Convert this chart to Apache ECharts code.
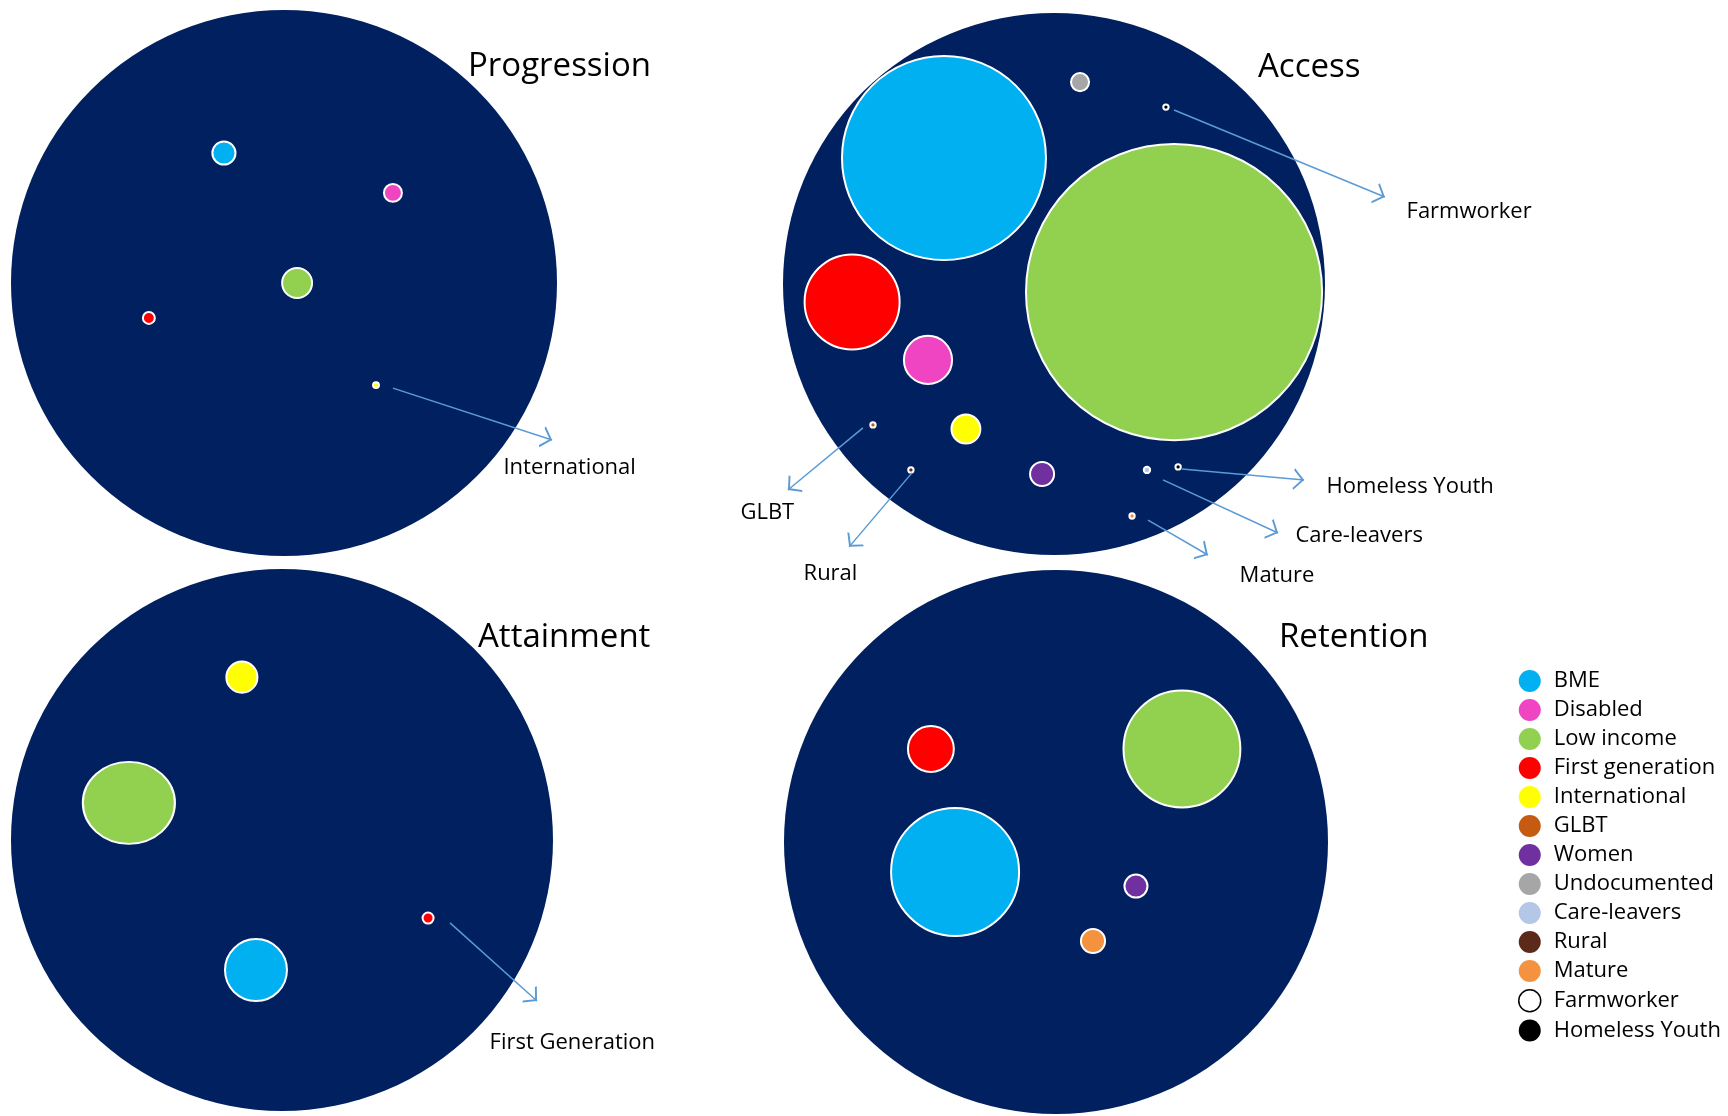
<!DOCTYPE html>
<html><head><meta charset="utf-8">
<script src="https://cdn.jsdelivr.net/npm/echarts@6/dist/echarts.min.js"></script>
<style>html,body{margin:0;padding:0;background:#fff}#c{width:1728px;height:1116px}</style>
</head><body><div id="c"></div>
<script>
// ---------- data ----------
const categories = ['BME','Disabled','Low income','First generation','International','GLBT','Women','Undocumented','Care-leavers','Rural','Mature','Farmworker','Homeless Youth'];
const panelNames = ['Progression','Access','Attainment','Retention'];
// bubbles: [category, x, y, width, height]  (units: panel disc radius = 100)
const progressionBubbles = [
  ['BME', -22.0, 47.6, 9.2, 9.2],
  ['Disabled', 39.9, 33.0, 7.3, 7.3],
  ['Low income', 4.8, 0.0, 11.7, 11.7],
  ['First generation', -49.5, -12.8, 5.1, 5.1],
  ['International', 33.7, -37.4, 2.9, 2.9]
];
const accessBubbles = [
  ['BME', -40.6, 46.5, 76.0, 76.0],
  ['Low income', 44.3, -3.0, 110.0, 110.0],
  ['Undocumented', 9.6, 74.5, 7.4, 7.4],
  ['Farmworker', 41.3, 65.3, 2.7, 2.7],
  ['First generation', -74.5, -6.6, 35.8, 35.8],
  ['Disabled', -46.5, -28.0, 18.5, 18.5],
  ['International', -32.5, -53.5, 11.4, 11.4],
  ['Women', -4.4, -70.1, 9.6, 9.6],
  ['GLBT', -66.8, -52.0, 2.7, 2.7],
  ['Rural', -52.8, -68.6, 2.7, 2.7],
  ['Care-leavers', 34.3, -68.6, 3.1, 3.1],
  ['Homeless Youth', 45.8, -67.5, 2.7, 2.7],
  ['Mature', 28.8, -85.6, 2.7, 2.7]
];
const attainmentBubbles = [
  ['International', -14.8, 60.1, 12.2, 12.2],
  ['Low income', -56.5, 13.7, 34.7, 31.0],
  ['First generation', 53.9, -28.8, 4.8, 4.8],
  ['BME', -9.6, -48.0, 23.6, 23.6]
];
const retentionBubbles = [
  ['First generation', -46.0, 34.2, 17.6, 17.6],
  ['Low income', 46.3, 34.2, 43.7, 43.7],
  ['BME', -37.1, -11.0, 47.8, 47.8],
  ['Women', 29.4, -16.2, 9.2, 9.2],
  ['Mature', 13.6, -36.4, 9.6, 9.6]
];
// call-outs: [text, fromX, fromY, toX, toY, labelX, labelY]
const progressionNotes = [['International', 39.9, -38.5, 98.2, -57.5, 80.2, -66.7]];
const accessNotes = [
  ['Farmworker', 44.3, 64.2, 122.1, 32.1, 129.9, 27.7],
  ['GLBT', -70.5, -53.1, -98.2, -76.0, -115.9, -83.4],
  ['Rural', -52.4, -69.7, -75.6, -97.0, -92.6, -105.9],
  ['Homeless Youth', 47.2, -68.3, 92.3, -72.3, 100.4, -73.8],
  ['Care-leavers', 40.2, -72.3, 82.7, -91.9, 88.9, -91.9],
  ['Mature', 34.7, -87.1, 56.8, -100.0, 68.3, -106.6]
];
const attainmentNotes = [['First Generation', 62.0, -30.6, 94.1, -59.4, 76.4, -73.8]];
const retentionNotes = [];

// ---------- styles / layout ----------
const colors = {
  'BME':'#00B0F0','Disabled':'#EF45C2','Low income':'#92D050','First generation':'#FF0000',
  'International':'#FFFF00','GLBT':'#C55A11','Women':'#7030A0','Undocumented':'#A6A6A6',
  'Care-leavers':'#B4C7E7','Rural':'#5B2A18','Mature':'#F59240','Farmworker':'#000000','Homeless Youth':'#000000'
};
const NAVY = '#002060', ARROW = '#5B9BD5', FONT = 'Open Sans';
const panels = [
  {cx:284, cy:283, r:273, tx:468, ty:47},
  {cx:1054, cy:284, r:271, tx:1258, ty:48},
  {cx:282, cy:840, r:271, tx:478, ty:618},
  {cx:1056, cy:842, r:272, tx:1279, ty:618}
];
const bubbleSets = [progressionBubbles, accessBubbles, attainmentBubbles, retentionBubbles];
const noteSets = [progressionNotes, accessNotes, attainmentNotes, retentionNotes];
const chevron = 'path://M0,-10.86L0.001,-10.86L0,-10.859Z M0,0L7,10L5.77,10.86L0,2.62L-5.77,10.86L-7,10Z';

const grid = [], xAxis = [], yAxis = [], series = [], title = [];
panels.forEach((p, i) => {
  grid.push({left:p.cx-p.r, top:p.cy-p.r, width:2*p.r, height:2*p.r, outerBoundsMode:'none', containLabel:false});
  xAxis.push({type:'value', gridIndex:i, min:-100, max:100, show:false});
  yAxis.push({type:'value', gridIndex:i, min:-100, max:100, show:false});
  title.push({text:panelNames[i], left:p.tx, top:p.ty, padding:0,
    textStyle:{fontFamily:FONT, fontSize:33, fontWeight:'normal', color:'#000', lineHeight:40}});
  const k = p.r / 100;
  // disc
  series.push({type:'scatter', name:'disc'+i, xAxisIndex:i, yAxisIndex:i, silent:true, z:1, clip:false,
    data:[[0,0,200,200]], symbolSize:v => [v[2]*k, v[3]*k],
    itemStyle:{color:NAVY, opacity:1}});
  // bubbles
  bubbleSets[i].forEach(b => {
    series.push({type:'scatter', name:b[0], xAxisIndex:i, yAxisIndex:i, z:3, clip:false, silent:true,
      data:[[b[1], b[2], b[3], b[4]]],
      symbolSize:v => [Math.max(v[2]*k-2, 3), Math.max(v[3]*k-2, 3)],
      itemStyle:{color:colors[b[0]], borderColor:'#ffffff', borderWidth:2, opacity:1}});
  });
  // arrows
  const notes = noteSets[i];
  if (notes.length) {
    series.push({type:'lines', name:'arrows'+i, coordinateSystem:'cartesian2d', xAxisIndex:i, yAxisIndex:i,
      z:4, silent:true, clip:false, symbol:['none', chevron], symbolSize:[14, 21.72],
      lineStyle:{color:ARROW, width:1.5, opacity:1, curveness:0},
      data:notes.map(n => ({coords:[[n[1], n[2]], [n[3], n[4]]]}))});
    series.push({type:'scatter', name:'notes'+i, xAxisIndex:i, yAxisIndex:i, z:5, silent:true, clip:false,
      symbolSize:1, itemStyle:{color:'rgba(0,0,0,0)'},
      label:{show:true, position:'right', distance:0, offset:[0,3], formatter:'{b}', color:'#000000',
        opacity:1, textBorderWidth:0, fontFamily:FONT, fontSize:22, fontWeight:'normal'},
      data:notes.map(n => ({name:n[0], value:[n[5], n[6]]}))});
  }
});

const chart = echarts.init(document.getElementById('c'), null, {renderer:'canvas'});
chart.setOption({
  backgroundColor:'#ffffff',
  animation:false,
  title,
  grid, xAxis, yAxis,
  legend:{
    orient:'vertical', left:1518, top:670, padding:0, itemGap:7,
    itemWidth:30, itemHeight:22, icon:'circle', selectedMode:false,
    itemStyle:{borderWidth:0},
    textStyle:{fontFamily:FONT, fontSize:22, color:'#000', lineHeight:22, padding:[0,0,0,4]},
    data:categories.map(c => c === 'Farmworker'
      ? {name:c, itemStyle:{color:'#ffffff', borderColor:'#000000', borderWidth:1.5}}
      : {name:c})
  },
  series
});
</script></body></html>
